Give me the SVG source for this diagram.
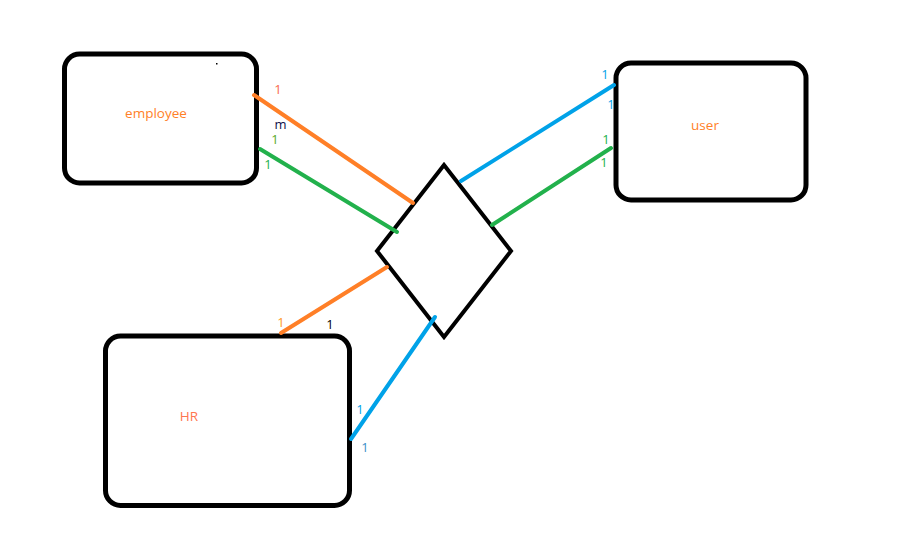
<svg xmlns="http://www.w3.org/2000/svg" width="918" height="553" viewBox="0 0 918 553">
  <style>
    .box { fill: #fff; stroke: #000; stroke-width: 5; }
    .shape { fill: none; stroke: #000; stroke-width: 4; stroke-linejoin: miter; }
    .link { fill: none; stroke-width: 4; stroke-linecap: round; }
    .orange { stroke: #ff7f27; }
    .green { stroke: #22b14c; }
    .blue { stroke: #00a2e8; }
    text { font-family: "Open Sans", "DejaVu Sans", sans-serif; }
    .name { font-size: 13.5px; fill: #ff7f27; text-anchor: middle; }
    .card { font-size: 13px; text-anchor: middle; }
  </style>
  <rect width="918" height="553" fill="#fff"/>

  <g id="employee">
    <rect class="box" x="64.5" y="54" width="192" height="129" rx="15"/>
    <text class="name" x="156" y="117.5">employee</text>
    <rect x="216" y="63" width="1.5" height="1.5" fill="#000"/>
  </g>

  <g id="user">
    <rect class="box" x="616" y="63" width="190" height="137" rx="15"/>
    <text class="name" x="705" y="129.5">user</text>
  </g>

  <g id="hr">
    <rect class="box" x="105.5" y="336" width="244" height="169.5" rx="15"/>
    <text class="name" x="189" y="420.5" style="fill:#ff7650">HR</text>
  </g>

  <g id="relationship">
    <polygon class="shape" points="444,165 511,251 444,337 377,251"/>
  </g>

  <g id="connectors">
    <line class="link orange" x1="254" y1="95" x2="413" y2="203"/>
    <line class="link green" x1="260" y1="149" x2="397" y2="232"/>
    <line class="link blue" x1="614" y1="85" x2="461" y2="181"/>
    <line class="link green" x1="611" y1="148" x2="492" y2="225"/>
    <line class="link orange" x1="281" y1="333" x2="387" y2="267"/>
    <line class="link blue" x1="351" y1="439" x2="435" y2="317"/>
  </g>

  <g id="cardinalities">
    <text class="card" x="278" y="94" fill="#f96a4e">1</text>
    <text class="card" x="280.5" y="129" fill="#10104a">m</text>
    <text class="card" x="275" y="144" fill="#5aa82a">1</text>
    <text class="card" x="268" y="169" fill="#22b14c">1</text>
    <text class="card" x="605" y="79" fill="#00a2e8">1</text>
    <text class="card" x="611" y="109" fill="#00a2e8">1</text>
    <text class="card" x="606" y="144" fill="#22b14c">1</text>
    <text class="card" x="604" y="167" fill="#22b14c">1</text>
    <text class="card" x="281" y="327" fill="#ff9a27">1</text>
    <text class="card" x="330" y="329" fill="#000">1</text>
    <text class="card" x="360" y="414" fill="#00a2e8">1</text>
    <text class="card" x="365" y="452" fill="#3a8fc8">1</text>
  </g>
</svg>
